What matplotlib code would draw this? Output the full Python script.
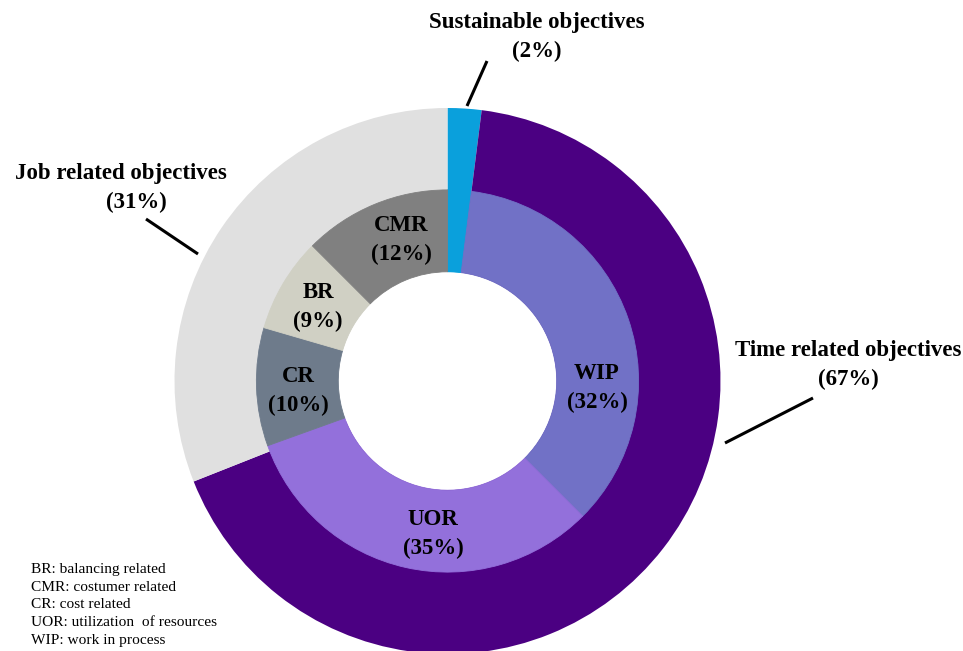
import matplotlib.pyplot as plt

# outer ring: objective groups
outer_names = ["Sustainable objectives", "Time related objectives", "Job related objectives"]
outer_pct = [2, 67, 31]
outer_colors = ["#0AA0DC", "#4B0082", "#E0E0E0"]

# inner ring: sub objectives (first slot is the sustainable sliver)
inner_names = ["", "WIP", "UOR", "CR", "BR", "CMR"]
inner_pct = [2, 32, 35, 10, 9, 12]          # printed percentages
inner_sizes = [2, 35.5, 32, 10, 8, 12.5]    # wedge sizes as drawn in the picture
inner_colors = ["#0AA0DC", "#7171C6", "#9370DB", "#6E7B8B", "#D0D0C4", "#808080"]

legend_lines = ["BR: balancing related",
                "CMR: costumer related",
                "CR: cost related",
                "UOR: utilization  of resources",
                "WIP: work in process"]

plt.rcParams['font.family'] = ['Liberation Serif', 'DejaVu Serif']

fig = plt.figure(figsize=(9.63, 6.51), dpi=100)
ax = fig.add_axes([0, 0, 1, 1])

R = 273.0
cx, cy = 447.5, 381.0


def pos(x, y):
    # pixel position in the picture -> data coords
    return ((x - cx) / R, (cy - y) / R)


w1, _ = ax.pie(outer_pct, radius=1.0, startangle=90, counterclock=False,
               colors=outer_colors, wedgeprops=dict(width=0.6, linewidth=0))
w2, _ = ax.pie(inner_sizes, radius=0.70, startangle=90, counterclock=False,
               colors=inner_colors, wedgeprops=dict(width=0.30, linewidth=0.6))
for w in w1 + w2:
    w.set_edgecolor(w.get_facecolor())

ax.set_xlim(-cx / R, (963 - cx) / R)
ax.set_ylim(-(651 - cy) / R, cy / R)
ax.axis('off')

bold = dict(fontsize=16.5, fontweight='bold', ha='center', va='center', linespacing=1.45)

# inner labels
inner_spots = [None, (597, 388), (433, 534), (298, 391), (318, 307), (401, 240)]
for name, p, spot in zip(inner_names, inner_pct, inner_spots):
    if spot is None:
        continue
    ax.text(*pos(*spot), f"{name}\n({p}%)", **bold)

# outer labels
ax.text(*pos(537, 37), f"{outer_names[0]}\n({outer_pct[0]}%)", **bold)
ax.text(*pos(848, 365), f"{outer_names[1]}\n({outer_pct[1]}%)", **bold)
ax.text(*pos(121, 173), outer_names[2], **bold)
ax.text(*pos(136, 202), f"({outer_pct[2]}%)", **bold)

# leader lines
for (x1, y1), (x2, y2) in [((467, 106), (487, 61)),
                           ((146, 219), (198, 254)),
                           ((725, 443), (813, 398))]:
    a, b = pos(x1, y1)
    c, d = pos(x2, y2)
    ax.plot([a, c], [b, d], color='black', lw=2.2, solid_capstyle='butt')

ax.text(*pos(31, 605), "\n".join(legend_lines), fontsize=11.1,
        ha='left', va='center', linespacing=1.48)

fig.savefig("out.png", dpi=100)
